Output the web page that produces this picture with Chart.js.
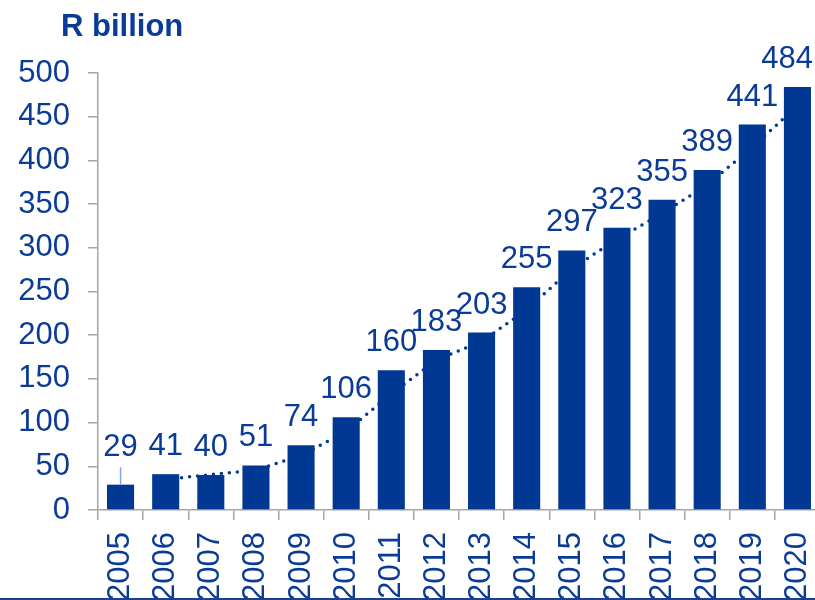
<!DOCTYPE html>
<html>
<head>
<meta charset="utf-8">
<script src="https://cdn.jsdelivr.net/npm/chart.js@4.4.1/dist/chart.umd.min.js"></script>
<style>
  html, body { margin: 0; padding: 0; background: #ffffff; overflow: hidden; }
  #wrap { position: relative; width: 820px; height: 601px; }
  #rule { position: absolute; left: 0; top: 598px; width: 820px; height: 2px; background: #1d3f93; }
</style>
</head>
<body>
<div id="wrap">
  <canvas id="chart" width="820" height="601"></canvas>
  <div id="rule"></div>
</div>
<script>
// Annual values, R billion
const years = ['2005','2006','2007','2008','2009','2010','2011','2012','2013','2014','2015','2016','2017','2018','2019','2020'];
const values = [29, 41, 40, 51, 74, 106, 160, 183, 203, 255, 297, 323, 355, 389, 441, 484];
// Two-period moving-average trend (no point for the first year)
const trend = [null, 35, 40.5, 45.5, 62.5, 90, 133, 171.5, 193, 229, 276, 310, 339, 372, 415, 462.5];
const unitTitle = 'R billion';
const yMin = 0, yMax = 500, yStep = 50;

const BLUE = '#003894';
const TEXT = '#0a3b96';
const GREY = '#a6a6a6';
const FONT = '"Liberation Sans", Arial, sans-serif';
const VISIBLE_RIGHT = 813; // labels are kept inside the visible page width

Chart.defaults.font.family = FONT;

// Value labels above the bars; the first one sits higher with a leader line
const valueLabels = {
  id: 'valueLabels',
  afterDatasetsDraw(chart) {
    const meta = chart.getDatasetMeta(0);
    const ctx = chart.ctx;
    ctx.save();
    ctx.font = '31px ' + FONT;
    ctx.fillStyle = TEXT;
    ctx.textAlign = 'center';
    ctx.textBaseline = 'alphabetic';
    meta.data.forEach((bar, i) => {
      const text = String(values[i]);
      const half = ctx.measureText(text).width / 2;
      const x = Math.min(bar.x, VISIBLE_RIGHT - half);
      const lifted = i === 0;
      const base = bar.y - (lifted ? 29 : 19);
      if (lifted) {
        ctx.strokeStyle = '#7ea8ec';
        ctx.lineWidth = 1.5;
        ctx.beginPath();
        ctx.moveTo(bar.x, bar.y);
        ctx.lineTo(bar.x, base + 11.5);
        ctx.stroke();
      }
      ctx.fillText(text, x, base);
    });
    ctx.restore();
  }
};

// Unit caption in the top-left corner
const unitCaption = {
  id: 'unitCaption',
  afterDraw(chart) {
    const ctx = chart.ctx;
    ctx.save();
    ctx.font = 'bold 31px ' + FONT;
    ctx.fillStyle = TEXT;
    ctx.textAlign = 'left';
    ctx.textBaseline = 'alphabetic';
    ctx.fillText(unitTitle, 61, 36);
    ctx.restore();
  }
};

new Chart(document.getElementById('chart'), {
  data: {
    labels: years,
    datasets: [
      {
        type: 'bar',
        data: values,
        backgroundColor: BLUE,
        borderWidth: 0,
        categoryPercentage: 1,
        barPercentage: 0.6,
        order: 1
      },
      {
        type: 'line',
        data: trend,
        borderColor: BLUE,
        borderWidth: 3.5,
        borderDash: [0, 8],
        borderCapStyle: 'round',
        pointRadius: 0,
        tension: 0,
        fill: false,
        order: 2
      }
    ]
  },
  options: {
    responsive: false,
    animation: false,
    layout: { padding: { top: 73, left: 18, right: 0, bottom: 0 } },
    plugins: {
      legend: { display: false },
      tooltip: { enabled: false },
      title: { display: false }
    },
    scales: {
      x: {
        offset: true,
        afterFit(scale) {
          scale.height = 91;
          scale.paddingLeft = 0;
          scale.paddingRight = 0;
        },
        grid: {
          offset: true,
          drawOnChartArea: false,
          tickLength: 10,
          color: GREY,
          lineWidth: 1.5
        },
        border: { display: true, color: GREY, width: 1.5 },
        ticks: {
          color: TEXT,
          font: { size: 31 },
          minRotation: 90,
          maxRotation: 90,
          padding: 12,
          autoSkip: false
        }
      },
      y: {
        min: yMin,
        max: yMax,
        afterFit(scale) {
          scale.width = 80;
          scale.paddingTop = 0;
          scale.paddingBottom = 0;
        },
        grid: {
          drawOnChartArea: false,
          tickLength: 10,
          color: GREY,
          lineWidth: 1.5
        },
        border: { display: true, color: GREY, width: 1.5 },
        ticks: {
          stepSize: yStep,
          color: TEXT,
          font: { size: 31 },
          padding: 18
        }
      }
    }
  },
  plugins: [valueLabels, unitCaption]
});
</script>
</body>
</html>
